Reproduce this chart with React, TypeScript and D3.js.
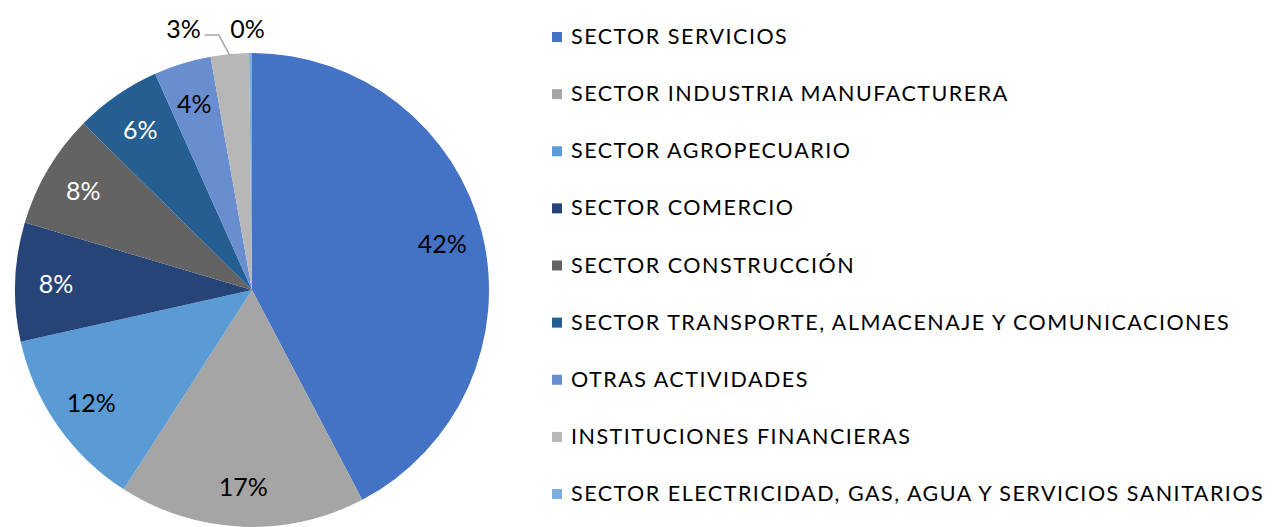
import React from "react";
import * as d3 from "d3";

const categories = [
  "SECTOR SERVICIOS",
  "SECTOR INDUSTRIA MANUFACTURERA",
  "SECTOR AGROPECUARIO",
  "SECTOR COMERCIO",
  "SECTOR CONSTRUCCIÓN",
  "SECTOR TRANSPORTE, ALMACENAJE Y COMUNICACIONES",
  "OTRAS ACTIVIDADES",
  "INSTITUCIONES FINANCIERAS",
  "SECTOR ELECTRICIDAD, GAS, AGUA Y SERVICIOS SANITARIOS",
];
const values = [42.3, 16.8, 12.4, 8.1, 7.8, 5.9, 3.9, 2.6, 0.2];
const colors = [
  "#4472C4",
  "#A5A5A5",
  "#5B9BD5",
  "#264478",
  "#636363",
  "#255E91",
  "#698ED0",
  "#B7B7B7",
  "#7CAFDD",
];
const labelColors = ["#000", "#000", "#000", "#fff", "#fff", "#fff", "#000", "#000", "#000"];

const W = 1273;
const H = 527;
const CX = 252;
const CY = 290;
const R = 237;
const FONT = "Lato, 'Open Sans', sans-serif";

export default function App() {
  const total = d3.sum(values);
  const data = values.map((v, i) => ({ v, i }));
  const pie = d3
    .pie<{ v: number; i: number }>()
    .value((d) => d.v)
    .sort(null)
    .startAngle(0)
    .endAngle(2 * Math.PI);
  const arcs = pie(data);
  const arc = d3.arc<d3.PieArcDatum<{ v: number; i: number }>>().innerRadius(0).outerRadius(R);
  const labelArc = d3
    .arc<d3.PieArcDatum<{ v: number; i: number }>>()
    .innerRadius(196)
    .outerRadius(196);
  const outerArc = d3.arc<d3.PieArcDatum<{ v: number; i: number }>>().innerRadius(R).outerRadius(R);

  const legendY = d3
    .scalePoint<number>()
    .domain(categories.map((_, i) => i))
    .range([37, 494]);

  return (
    <svg width={W} height={H} style={{ position: "absolute", left: 0, top: 0 }}>
      <rect width={W} height={H} fill="#fff" />
      <g transform={`translate(${CX},${CY})`}>
        {arcs.map((a) => (
          <path key={a.data.i} d={arc(a) || ""} fill={colors[a.data.i]} />
        ))}
        {arcs.map((a) => {
          const pct = Math.round((a.data.v / total) * 100) + "%";
          const small = a.data.v / total < 0.03;
          if (!small) {
            const [x, y] = labelArc.centroid(a);
            return (
              <text
                key={a.data.i}
                x={x}
                y={y}
                textAnchor="middle"
                dominantBaseline="central"
                fontFamily={FONT}
                fontSize={25}
                fill={labelColors[a.data.i]}
              >
                {pct}
              </text>
            );
          }
          const [ox, oy] = outerArc.centroid(a);
          const ty = -R - 25;
          if (a.data.i === 7) {
            const ex = ox - 11;
            return (
              <g key={a.data.i}>
                <polyline
                  points={`${ox},${oy + 1} ${ex},${ty + 7} ${ex - 14},${ty + 7}`}
                  fill="none"
                  stroke="#A5A5A5"
                  strokeWidth={1.5}
                />
                <text
                  x={ex - 18}
                  y={ty}
                  textAnchor="end"
                  dominantBaseline="central"
                  fontFamily={FONT}
                  fontSize={25}
                  fill="#000"
                >
                  {pct}
                </text>
              </g>
            );
          }
          return (
            <text
              key={a.data.i}
              x={ox - 3}
              y={ty}
              textAnchor="middle"
              dominantBaseline="central"
              fontFamily={FONT}
              fontSize={25}
              fill="#000"
            >
              {pct}
            </text>
          );
        })}
      </g>
      <g>
        {categories.map((c, i) => {
          const y = legendY(i) as number;
          return (
            <g key={c}>
              <rect x={552} y={y - 5} width={10} height={10} fill={colors[i]} />
              <text
                x={571}
                y={y - 1}
                dominantBaseline="central"
                fontFamily={FONT}
                fontSize={21.5}
                letterSpacing={1.5}
                fill="#000"
              >
                {c}
              </text>
            </g>
          );
        })}
      </g>
    </svg>
  );
}
